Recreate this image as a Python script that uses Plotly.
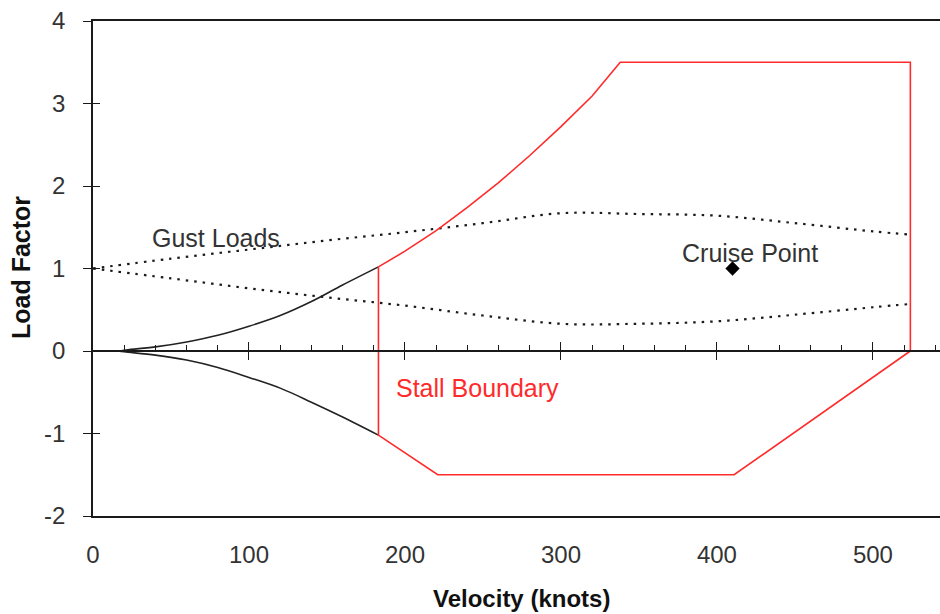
import plotly.graph_objects as go

# Velocity (knots) and load factor data for the V-n diagram
stall_pos_v = [16, 20, 40, 60, 80, 100, 120, 140, 160, 183]
stall_pos_n = [0.0, 0.01, 0.05, 0.11, 0.19, 0.30, 0.43, 0.60, 0.80, 1.02]

stall_neg_v = [16, 20, 40, 60, 80, 100, 120, 140, 160, 183]
stall_neg_n = [0.0, -0.01, -0.05, -0.11, -0.20, -0.32, -0.45, -0.62, -0.80, -1.02]

envelope_v = [183, 200, 220, 240, 260, 280, 300, 320, 338, 524, 524, 411, 221, 183, 183]
envelope_n = [1.02, 1.21, 1.46, 1.74, 2.04, 2.37, 2.72, 3.09, 3.50, 3.50, 0.0, -1.5, -1.5, -1.02, 1.02]

gust_v = [0, 50, 100, 150, 200, 250, 300, 350, 400, 450, 500, 524]
gust_up_n = [1.0, 1.12, 1.23, 1.34, 1.44, 1.55, 1.67, 1.66, 1.64, 1.55, 1.45, 1.41]
gust_low_n = [1.0, 0.88, 0.76, 0.65, 0.55, 0.43, 0.33, 0.33, 0.36, 0.44, 0.53, 0.57]

cruise_v = [410]
cruise_n = [1.0]

x_ticks = [0, 100, 200, 300, 400, 500]
y_ticks = [-2, -1, 0, 1, 2, 3, 4]
y_ticktext = ["-2", "-1", "0", "1", "2", "3", "4"]

X_RANGE = [0, 543]
Y_RANGE = [-2, 4]
FONT = "Arial, Liberation Sans, sans-serif"
RED = "#ff2a2a"
INK = "#1a1a1a"
LABEL = "#333333"

fig = go.Figure()

gust_dash = "2.5px,6px"
fig.add_trace(go.Scatter(x=gust_v, y=gust_up_n, mode="lines",
                         line=dict(color=INK, width=2.2, dash=gust_dash, shape="spline"),
                         showlegend=False, hoverinfo="skip"))
fig.add_trace(go.Scatter(x=gust_v, y=gust_low_n, mode="lines",
                         line=dict(color=INK, width=2.2, dash=gust_dash, shape="spline"),
                         showlegend=False, hoverinfo="skip"))

fig.add_trace(go.Scatter(x=stall_pos_v, y=stall_pos_n, mode="lines",
                         line=dict(color="#222222", width=1.6, shape="spline"),
                         showlegend=False))
fig.add_trace(go.Scatter(x=stall_neg_v, y=stall_neg_n, mode="lines",
                         line=dict(color="#222222", width=1.6, shape="spline"),
                         showlegend=False))

fig.add_trace(go.Scatter(x=envelope_v, y=envelope_n, mode="lines",
                         line=dict(color=RED, width=1.6),
                         showlegend=False))

fig.add_trace(go.Scatter(x=cruise_v, y=cruise_n, mode="markers",
                         marker=dict(symbol="diamond", size=11, color="black"),
                         showlegend=False))

# Empty traces so the zero-line axes are registered
fig.add_trace(go.Scatter(x=[], y=[], xaxis="x2", yaxis="y", showlegend=False))
fig.add_trace(go.Scatter(x=[], y=[], xaxis="x3", yaxis="y", showlegend=False))
fig.add_trace(go.Scatter(x=[], y=[], xaxis="x", yaxis="y2", showlegend=False))

zero_pos = (0 - Y_RANGE[0]) / (Y_RANGE[1] - Y_RANGE[0])

fig.update_layout(
    width=940, height=614,
    margin=dict(l=93, r=0, t=21, b=98),
    paper_bgcolor="white", plot_bgcolor="white",
    font=dict(family=FONT, size=24, color=LABEL),
    xaxis=dict(range=X_RANGE, tickvals=x_ticks, ticks="", showgrid=False,
               zeroline=False, showline=True, linecolor=INK, linewidth=1.5,
               mirror=True, ticklabelstandoff=16,
               tickfont=dict(size=24, color=LABEL)),
    xaxis2=dict(range=X_RANGE, overlaying="x", anchor="free", position=zero_pos,
                side="bottom", showline=True, linecolor=INK, linewidth=1.5,
                showticklabels=False, showgrid=False, zeroline=False,
                tickvals=x_ticks, ticks="inside", ticklen=8, tickcolor=INK, tickwidth=1.3,
                minor=dict(dtick=20, tick0=0, ticks="inside", ticklen=5,
                           tickcolor=INK, tickwidth=1.1, showgrid=False)),
    xaxis3=dict(range=X_RANGE, overlaying="x", anchor="free", position=zero_pos,
                side="bottom", showline=False, showticklabels=False, showgrid=False,
                zeroline=False, tickvals=x_ticks[1:], ticks="outside", ticklen=8,
                tickcolor=INK, tickwidth=1.3),
    yaxis=dict(range=Y_RANGE, tickvals=y_ticks, ticktext=y_ticktext,
               ticks="outside", ticklen=8,
               tickcolor=INK, tickwidth=1.3, showgrid=False, zeroline=False,
               showline=True, linecolor=INK, linewidth=1.5,
               ticklabelstandoff=13, tickfont=dict(size=24, color=LABEL)),
    yaxis2=dict(range=Y_RANGE, overlaying="y", anchor="x", side="left",
                tickvals=y_ticks, ticks="inside", ticklen=7, tickcolor=INK,
                tickwidth=1.3, showticklabels=False, showgrid=False,
                zeroline=False, showline=False),
    annotations=[
        dict(text="Gust Loads", x=79, y=1.37, xref="x", yref="y", showarrow=False,
             font=dict(size=25, color=LABEL)),
        dict(text="Cruise Point", x=421, y=1.19, xref="x", yref="y", showarrow=False,
             font=dict(size=25, color=LABEL)),
        dict(text="Stall Boundary", x=246.5, y=-0.45, xref="x", yref="y", showarrow=False,
             font=dict(size=25, color=RED)),
        dict(text="<b>Load Factor</b>", x=(21 - 93) / 847, y=(516 - 268) / 495,
             xref="paper", yref="paper", xanchor="center", yanchor="middle",
             showarrow=False, textangle=-90, font=dict(size=25, color="#111111")),
        dict(text="<b>Velocity (knots)</b>", x=(521 - 93) / 847, y=(516 - 614) / 495,
             xref="paper", yref="paper", xanchor="center", yanchor="bottom",
             showarrow=False, font=dict(size=24, color="#111111")),
    ],
)

fig.write_html("out.html")
